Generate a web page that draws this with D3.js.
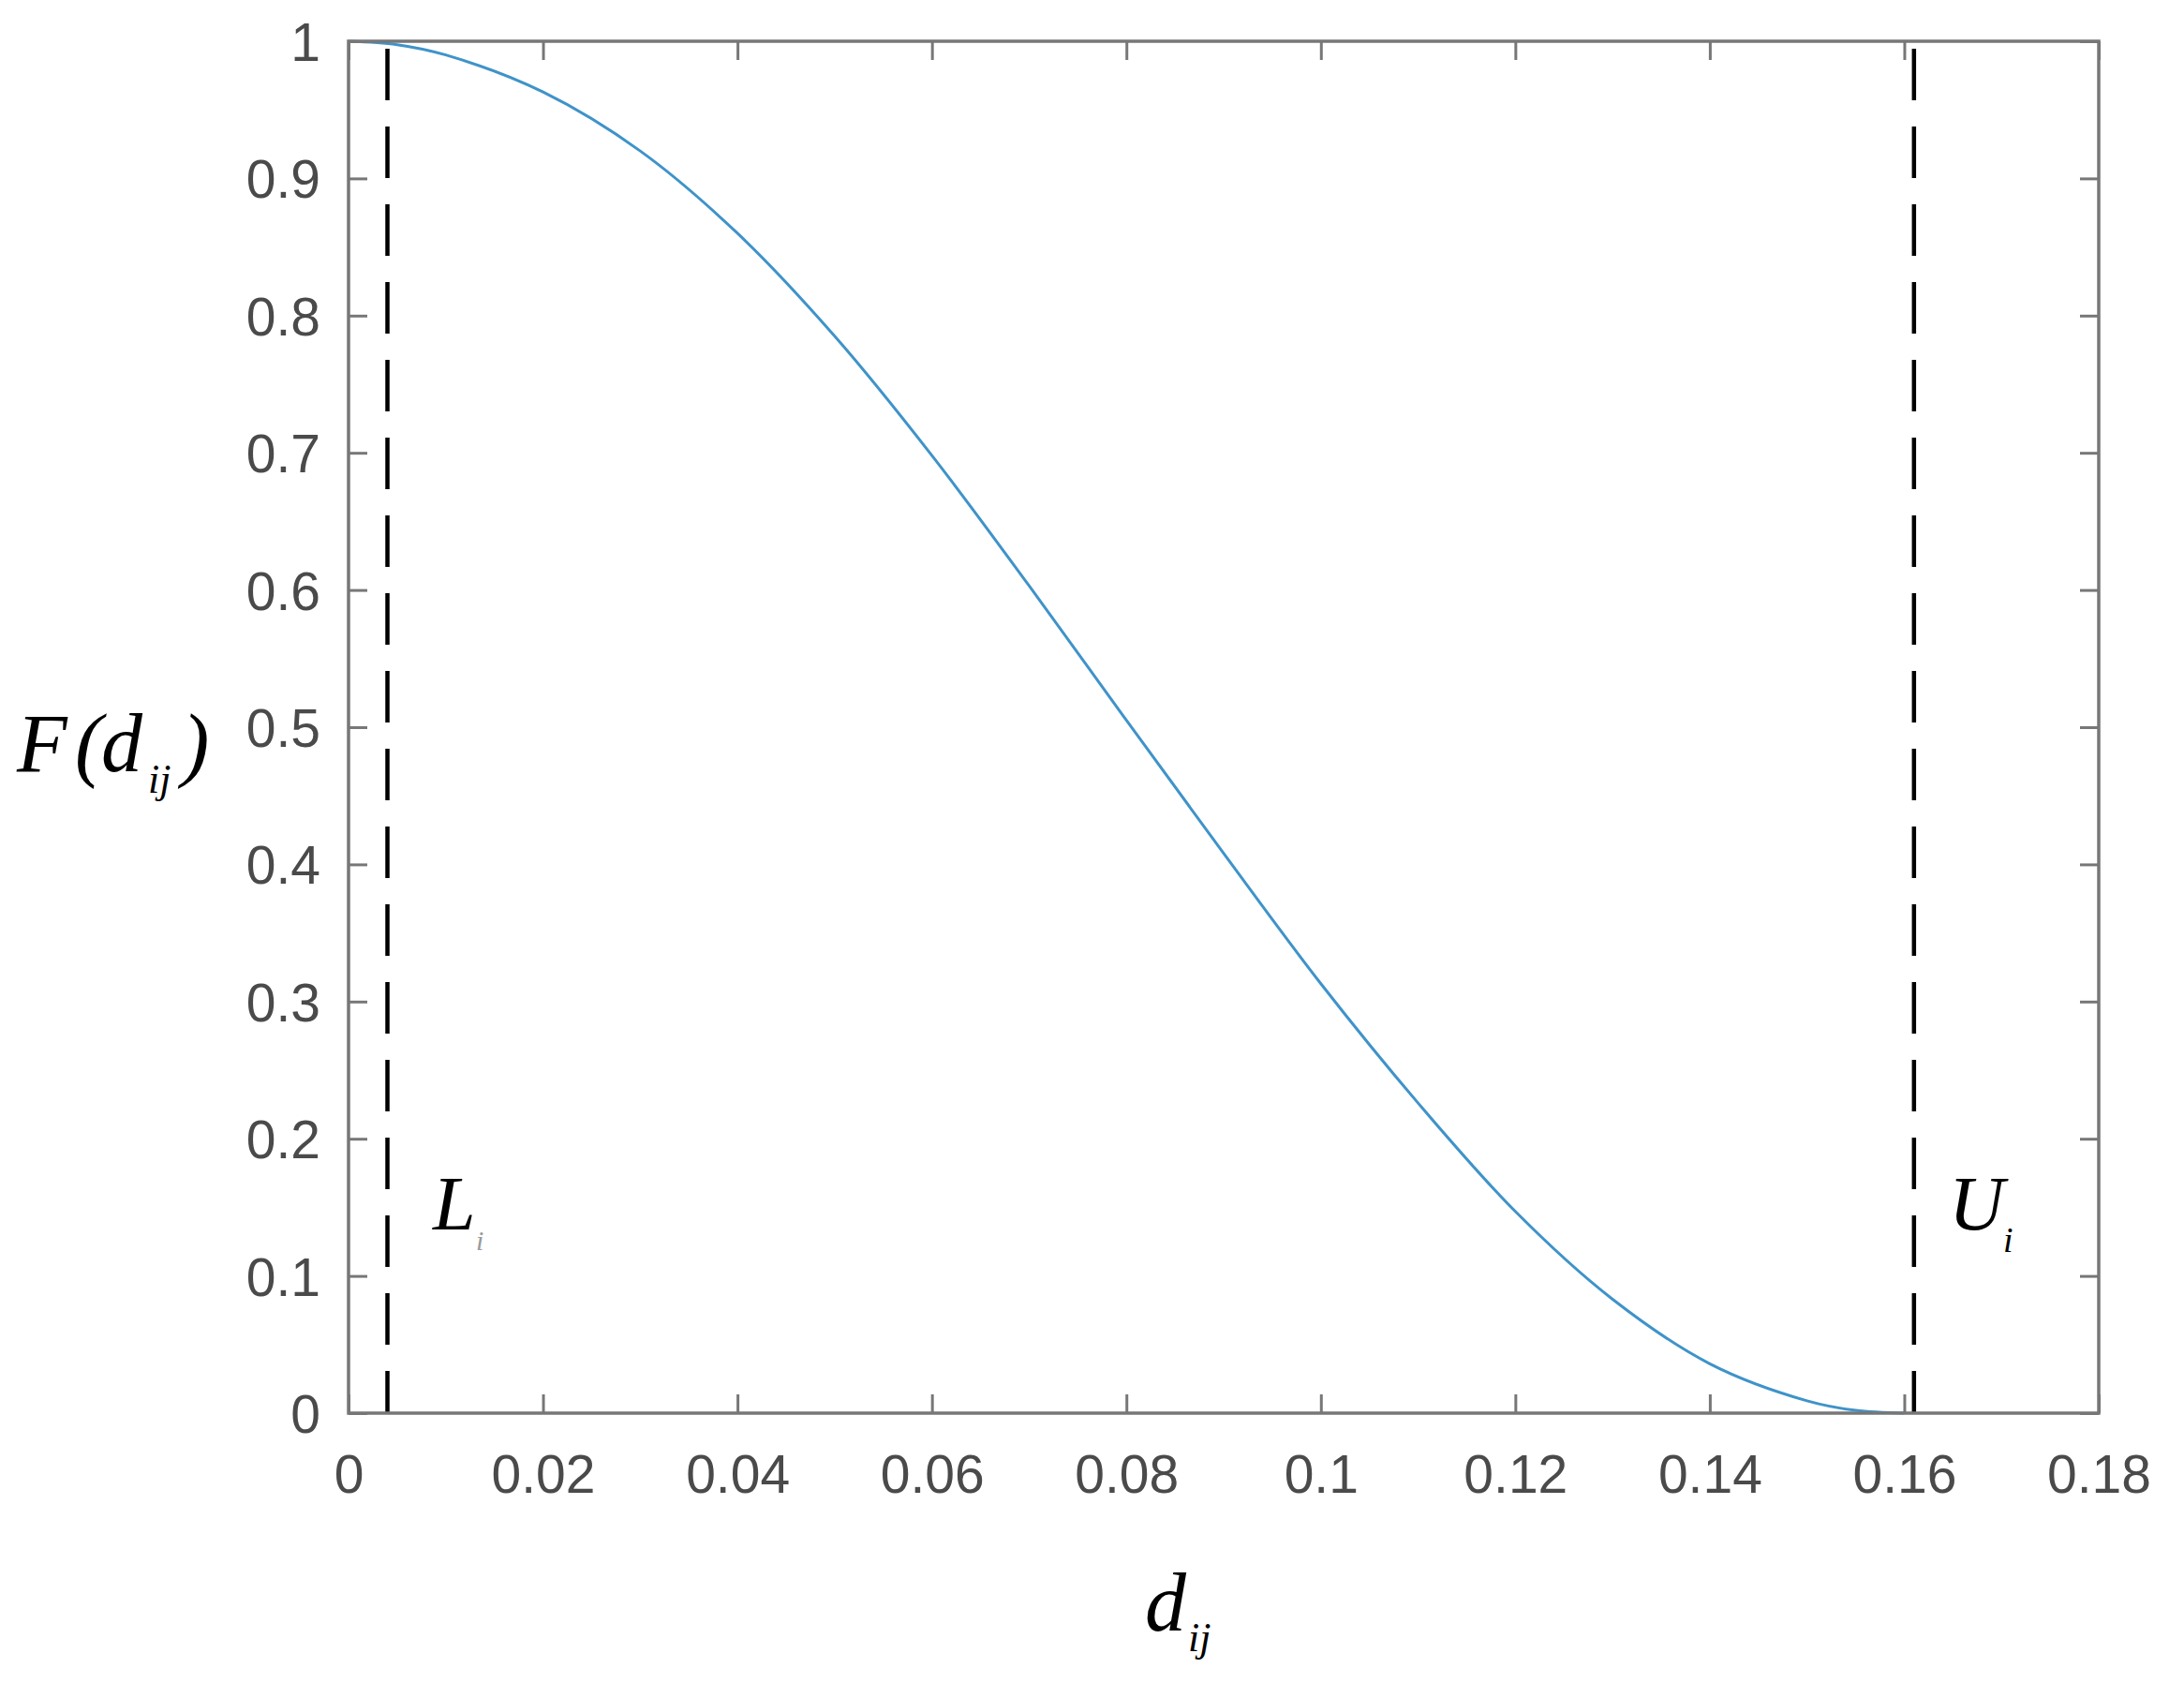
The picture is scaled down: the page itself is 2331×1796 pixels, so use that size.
<!DOCTYPE html>
<html>
<head>
<meta charset="utf-8">
<script src="https://cdn.jsdelivr.net/npm/d3@7"></script>
<style>
  html, body { margin: 0; padding: 0; background: #fff; }
  svg { display: block; }
</style>
</head>
<body>
<svg id="chart" width="2331" height="1796"></svg>
<script>
// ---- data ----
const dValues = [0, 0.005, 0.01, 0.02, 0.03, 0.04, 0.05, 0.06, 0.07, 0.08, 0.09, 0.10, 0.11, 0.12, 0.13, 0.14, 0.15, 0.155, 0.16];
const fValues = [1.0, 0.9975, 0.99, 0.963, 0.92, 0.86, 0.785, 0.698, 0.603, 0.505, 0.408, 0.313, 0.226, 0.147, 0.083, 0.036, 0.009, 0.002, 0.0];
const xTicks = [0, 0.02, 0.04, 0.06, 0.08, 0.1, 0.12, 0.14, 0.16, 0.18];
const xTickLabels = ["0", "0.02", "0.04", "0.06", "0.08", "0.1", "0.12", "0.14", "0.16", "0.18"];
const yTicks = [0, 0.1, 0.2, 0.3, 0.4, 0.5, 0.6, 0.7, 0.8, 0.9, 1];
const yTickLabels = ["0", "0.1", "0.2", "0.3", "0.4", "0.5", "0.6", "0.7", "0.8", "0.9", "1"];
const boundLines = [{ name: "L", x: 0.004 }, { name: "U", x: 0.161 }];

// ---- layout ----
const svg = d3.select("#chart");
const pLeft = 372, pRight = 2240, pTop = 44, pBottom = 1508;
const x = d3.scaleLinear().domain([0, 0.18]).range([pLeft, pRight]);
const y = d3.scaleLinear().domain([0, 1]).range([pBottom, pTop]);

const frameColor = "#777777";
const labelColor = "#4a4a4a";
const tickLen = 20;

// curve
const line = d3.line()
  .x((d, i) => x(dValues[i]))
  .y((d, i) => y(fValues[i]))
  .curve(d3.curveCatmullRom.alpha(0.5));
svg.append("path")
  .datum(fValues)
  .attr("d", line)
  .attr("fill", "none")
  .attr("stroke", "#3f93c9")
  .attr("stroke-width", 3);

// dashed bound lines
svg.selectAll("line.bound")
  .data(boundLines)
  .enter().append("line")
  .attr("class", "bound")
  .attr("x1", d => x(d.x)).attr("x2", d => x(d.x))
  .attr("y1", y(1)).attr("y2", y(0))
  .attr("stroke", "#000")
  .attr("stroke-width", 4.5)
  .attr("stroke-dasharray", "55,28")
  .attr("stroke-dashoffset", -8);

// axes with inner ticks (mirrored on all sides)
const fontSans = "'Liberation Sans', Arial, Helvetica, sans-serif";
const xAxisB = d3.axisBottom(x).tickValues(xTicks).tickSize(-tickLen).tickFormat((d, i) => xTickLabels[i]);
const xAxisT = d3.axisTop(x).tickValues(xTicks).tickSize(-tickLen).tickFormat("");
const yAxisL = d3.axisLeft(y).tickValues(yTicks).tickSize(-tickLen).tickFormat((d, i) => yTickLabels[i]);
const yAxisR = d3.axisRight(y).tickValues(yTicks).tickSize(-tickLen).tickFormat("");

function style(g) {
  g.select(".domain").remove();
  g.selectAll(".tick line").attr("stroke", frameColor).attr("stroke-width", 3);
  g.selectAll(".tick text").attr("fill", labelColor).attr("font-family", fontSans).attr("font-size", 57);
}
svg.append("g").attr("transform", `translate(0,${pBottom})`).call(xAxisB).call(style)
  .selectAll(".tick text").attr("dy", 0).attr("y", 85);
svg.append("g").attr("transform", `translate(0,${pTop})`).call(xAxisT).call(style);
svg.append("g").attr("transform", `translate(${pLeft},0)`).call(yAxisL).call(style)
  .selectAll(".tick text").attr("x", -30).attr("dy", "0.36em");
svg.append("g").attr("transform", `translate(${pRight},0)`).call(yAxisR).call(style);

// frame
svg.append("rect")
  .attr("x", pLeft).attr("y", pTop)
  .attr("width", pRight - pLeft).attr("height", pBottom - pTop)
  .attr("fill", "none")
  .attr("stroke", frameColor)
  .attr("stroke-width", 3.5);

// ---- labels ----
const serif = "'Liberation Serif', 'Times New Roman', Times, serif";
function put(txt, px, py, size, opts = {}) {
  return svg.append("text")
    .attr("x", px).attr("y", py)
    .attr("font-family", serif)
    .attr("font-style", opts.italic === false ? "normal" : "italic")
    .attr("font-size", size)
    .attr("fill", opts.fill || "#000")
    .text(txt);
}
// y label F(d_ij)
put("F", 18, 823, 88);
put("(", 80, 823, 88);
put("d", 108, 823, 88);
put("ij", 158, 846, 44);
put(")", 194, 823, 88);

// x label d_ij
put("d", 1222, 1740, 88);
put("ij", 1268, 1762, 44);

// L_i and U_i
put("L", 462, 1312, 82);
put("i", 508, 1334, 30, { fill: "#9a9a9a" });
put("U", 2080, 1312, 82);
put("i", 2138, 1336, 38);
</script>
</body>
</html>
